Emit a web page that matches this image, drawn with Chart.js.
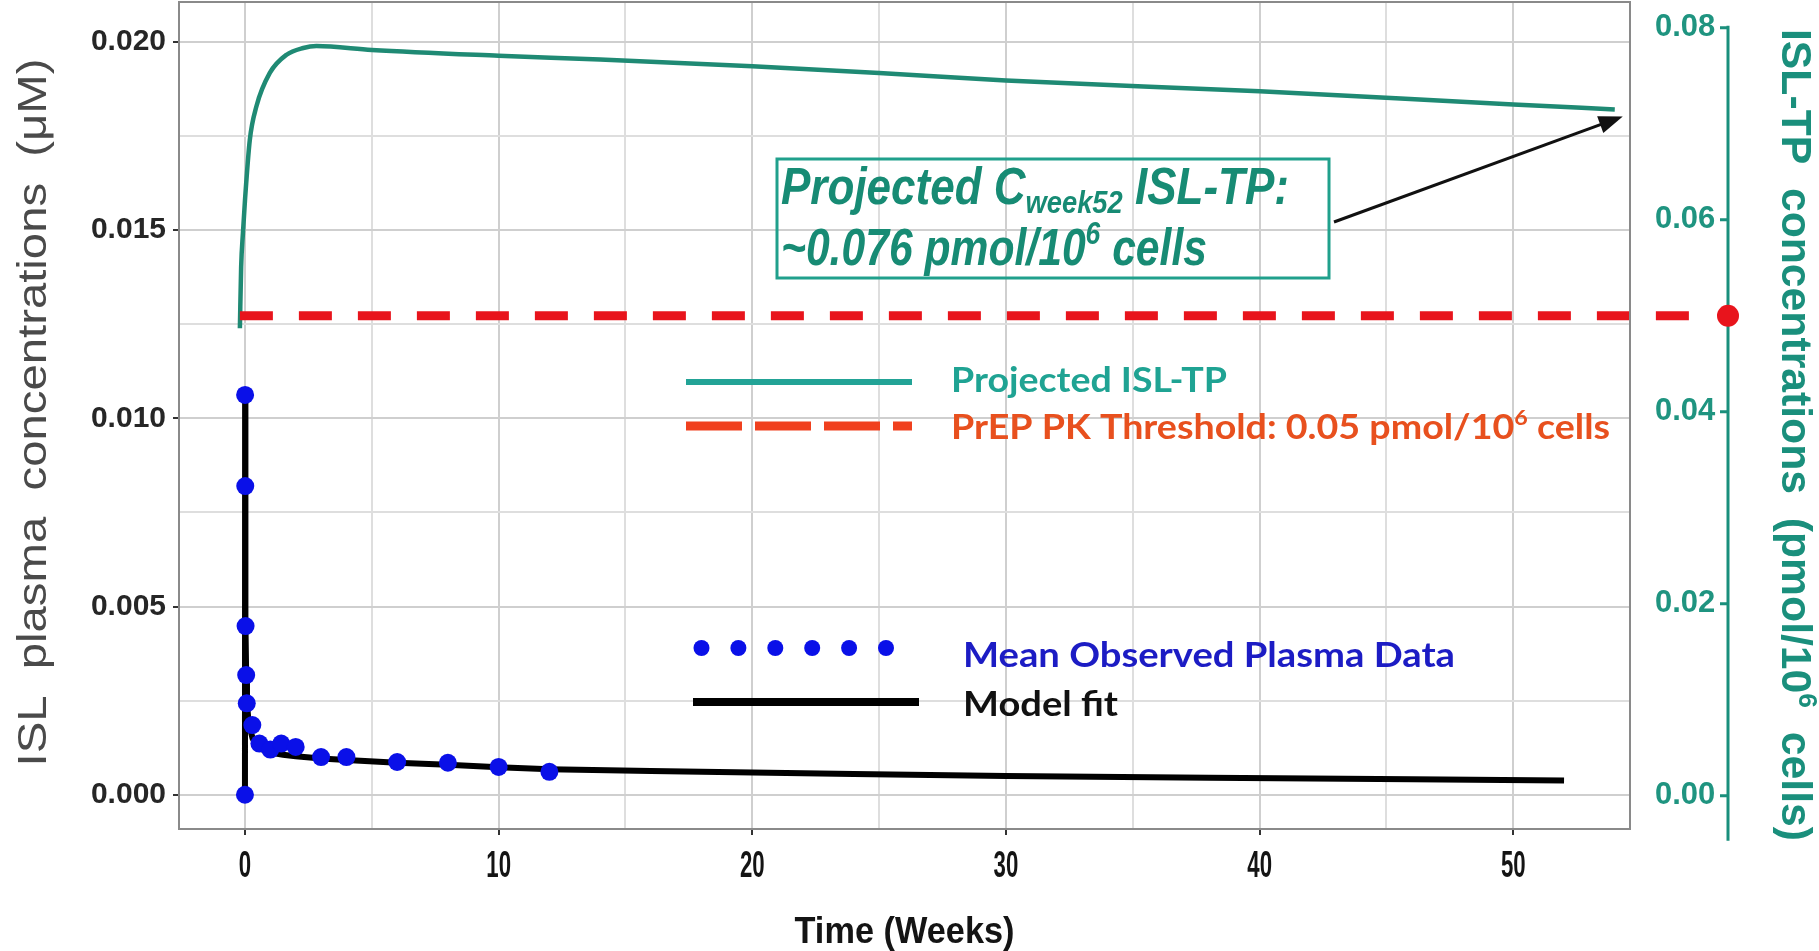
<!DOCTYPE html>
<html>
<head>
<meta charset="utf-8">
<script src="https://cdn.jsdelivr.net/npm/chart.js@4.4.1/dist/chart.umd.min.js"></script>
<style>
html,body{margin:0;padding:0;background:#fff;}
#wrap{width:1819px;height:951px;position:relative;}
</style>
</head>
<body>
<div id="wrap"><canvas id="c"></canvas></div>
<script>
// mean observed ISL plasma data (weeks, uM)
const obsWeeks = [0, 0.006, 0.012, 0.024, 0.048, 0.071, 0.29, 0.57, 1, 1.43, 2, 3, 4, 6, 8, 10, 12];
const obsConc  = [0, 0.01062, 0.0082, 0.00448, 0.00318, 0.00243, 0.00185, 0.00136, 0.0012, 0.00136, 0.00127, 0.001, 0.001, 0.00087, 0.00085, 0.00074, 0.00061];

// model fit (weeks, uM)
const fitWeeks = [0, 0.006, 0.012, 0.024, 0.048, 0.08, 0.15, 0.3, 0.5, 1, 1.5, 2, 3, 4, 6, 8, 10, 12, 16, 20, 24, 30, 38, 46, 52];
const fitConc  = [0, 0.0106, 0.0082, 0.0046, 0.0032, 0.0024, 0.0019, 0.0015, 0.00125, 0.00112, 0.00106, 0.00102, 0.00096, 0.00092, 0.00085, 0.0008, 0.00073, 0.00068, 0.00063, 0.00059, 0.00055, 0.0005, 0.00045, 0.00041, 0.00038];

// projected ISL-TP (weeks, pmol/10^6 cells)
const tpWeeks = [-0.2, -0.15, -0.08, 0, 0.19, 0.45, 0.98, 1.64, 2.3, 2.82, 5, 10, 14, 20, 25, 30, 40, 50, 54];
const tpConc  = [0.0487, 0.0551, 0.0586, 0.062, 0.0683, 0.0718, 0.0753, 0.0772, 0.0779, 0.0781, 0.0777, 0.0771, 0.0767, 0.076, 0.0753, 0.0745, 0.0734, 0.072, 0.0715];

// PrEP PK threshold (pmol/10^6 cells)
const thresholdValue = 0.05;
const thresholdWeeks = [-0.2, 57.3];

const xTickLabels  = [0, 10, 20, 30, 40, 50];
const yTickLabels  = [0, 0.005, 0.01, 0.015, 0.02];
const y2TickLabels = [0, 0.02, 0.04, 0.06, 0.08];

const TEAL = '#1f8a74';
const isIn = (arr, v) => arr.some(t => Math.abs(t - v) < 1e-9);
const pts = (xs, ys) => xs.map((x, i) => ({x: x, y: ys[i]}));

// draw text made of runs (normal / sup / sub), optionally squeezed to a width
function drawRuns(ctx, runs, o) {
  const font = s => `${o.style || 'normal'} ${o.weight || 'normal'} ${s}px ${o.family || "'Liberation Sans'"}`;
  ctx.save();
  let total = 0;
  const ws = runs.map(r => {
    ctx.font = font(o.size * (r.sup || r.sub ? 0.62 : 1));
    const w = ctx.measureText(r.t).width;
    total += w;
    return w;
  });
  const sx = o.width ? o.width / total : (o.sx || 1);
  ctx.translate(o.x, o.y);
  if (o.rotate) ctx.rotate(o.rotate);
  ctx.scale(sx, 1);
  ctx.fillStyle = o.color;
  ctx.textAlign = 'left';
  ctx.textBaseline = 'alphabetic';
  let cx = o.align === 'center' ? -total / 2 : 0;
  runs.forEach((r, i) => {
    ctx.font = font(o.size * (r.sup || r.sub ? 0.62 : 1));
    const dy = r.sup ? -o.size * 0.4 : (r.sub ? o.size * 0.18 : 0);
    ctx.fillText(r.t, cx, dy);
    cx += ws[i];
  });
  ctx.restore();
}

const decor = {
  id: 'decor',
  afterDatasetsDraw(chart) {
    const {ctx, chartArea: a, scales} = chart;
    const x = scales.x, y2 = scales.y2;

    // panel border
    ctx.save();
    ctx.strokeStyle = '#8a8a8a';
    ctx.lineWidth = 2;
    ctx.strokeRect(a.left, a.top, a.right - a.left, a.bottom - a.top);
    ctx.restore();

    // x tick labels and title
    xTickLabels.forEach(v => {
      drawRuns(ctx, [{t: String(v)}], {x: x.getPixelForValue(v), y: 877, size: 37, weight: 'bold', sx: 0.6, align: 'center', color: '#141414'});
    });
    drawRuns(ctx, [{t: 'Time (Weeks)'}], {x: (a.left + a.right) / 2, y: 943, size: 36, weight: 'bold', width: 220, align: 'center', color: '#141414'});

    // left title
    drawRuns(ctx, [{t: 'ISL  plasma  concentrations  (\u03bcM)'}], {x: 46, y: (a.top + a.bottom) / 2 - 3, size: 40, width: 708, align: 'center', rotate: -Math.PI / 2, color: '#4a4a4a'});

    // right axis line, ticks, dot, title
    const ax = a.right + 98;
    ctx.save();
    ctx.strokeStyle = '#1a8f7c';
    ctx.lineWidth = 3;
    ctx.beginPath();
    ctx.moveTo(ax, y2.getPixelForValue(0.08) - 2);
    ctx.lineTo(ax, y2.getPixelForValue(0) + 45);
    y2TickLabels.forEach(v => {
      const py = y2.getPixelForValue(v);
      ctx.moveTo(ax - 8, py);
      ctx.lineTo(ax, py);
    });
    ctx.stroke();
    ctx.fillStyle = '#e8141c';
    ctx.beginPath();
    ctx.arc(ax, y2.getPixelForValue(thresholdValue), 11, 0, Math.PI * 2);
    ctx.fill();
    ctx.restore();
    drawRuns(ctx, [{t: 'ISL-TP  concentrations  (pmol/10'}, {t: '6', sup: true}, {t: '  cells)'}],
      {x: 1782, y: 435, size: 42, weight: 'bold', width: 812, align: 'center', rotate: Math.PI / 2, color: '#1a8f7c'});

    // annotation box with arrow
    ctx.save();
    ctx.strokeStyle = '#20a08c';
    ctx.lineWidth = 3;
    ctx.strokeRect(777, 159, 552, 119);
    const tx = x.getPixelForValue(tpWeeks[tpWeeks.length - 1]) + 8;
    const ty = y2.getPixelForValue(tpConc[tpConc.length - 1]) + 7;
    const sx0 = 1334, sy0 = 222;
    const ang = Math.atan2(ty - sy0, tx - sx0);
    ctx.strokeStyle = '#111';
    ctx.lineWidth = 3;
    ctx.beginPath();
    ctx.moveTo(sx0, sy0);
    ctx.lineTo(tx - 18 * Math.cos(ang), ty - 18 * Math.sin(ang));
    ctx.stroke();
    ctx.fillStyle = '#111';
    ctx.beginPath();
    ctx.moveTo(tx, ty);
    ctx.lineTo(tx - 24 * Math.cos(ang) + 9 * Math.sin(ang), ty - 24 * Math.sin(ang) - 9 * Math.cos(ang));
    ctx.lineTo(tx - 24 * Math.cos(ang) - 9 * Math.sin(ang), ty - 24 * Math.sin(ang) + 9 * Math.cos(ang));
    ctx.closePath();
    ctx.fill();
    ctx.restore();
    drawRuns(ctx, [{t: 'Projected C'}, {t: 'week52', sub: true}, {t: ' ISL-TP:'}],
      {x: 781, y: 204, size: 52, weight: 'bold', style: 'italic', width: 508, color: '#178b74'});
    drawRuns(ctx, [{t: '~0.076 pmol/10'}, {t: '6', sup: true}, {t: ' cells'}],
      {x: 781, y: 265, size: 52, weight: 'bold', style: 'italic', width: 426, color: '#178b74'});

    // legends
    ctx.save();
    ctx.lineCap = 'butt';
    ctx.strokeStyle = '#22a396';
    ctx.lineWidth = 6;
    ctx.beginPath(); ctx.moveTo(686, 382); ctx.lineTo(912, 382); ctx.stroke();
    ctx.strokeStyle = '#f0401e';
    ctx.lineWidth = 9;
    ctx.setLineDash([56, 13]);
    ctx.beginPath(); ctx.moveTo(686, 426); ctx.lineTo(912, 426); ctx.stroke();
    ctx.setLineDash([]);
    ctx.fillStyle = '#0a10e8';
    for (let i = 0; i < 6; i++) {
      ctx.beginPath(); ctx.arc(701.5 + 36.9 * i, 648, 8, 0, Math.PI * 2); ctx.fill();
    }
    ctx.strokeStyle = '#000';
    ctx.lineWidth = 8;
    ctx.beginPath(); ctx.moveTo(693, 702); ctx.lineTo(919, 702); ctx.stroke();
    ctx.restore();
    const lf = {family: 'Lato', weight: 'bold', size: 35};
    drawRuns(ctx, [{t: 'Projected ISL-TP'}], Object.assign({x: 951, y: 392, width: 276, color: '#1fa393'}, lf));
    drawRuns(ctx, [{t: 'PrEP PK Threshold: 0.05 pmol/10'}, {t: '6', sup: true}, {t: ' cells'}], Object.assign({x: 951, y: 439, width: 659, color: '#e8501e'}, lf));
    drawRuns(ctx, [{t: 'Mean Observed Plasma Data'}], Object.assign({x: 963, y: 667, width: 492, color: '#1c1cc4'}, lf));
    drawRuns(ctx, [{t: 'Model fit'}], Object.assign({x: 963, y: 716, width: 155, color: '#111'}, lf));
  }
};

Chart.defaults.font.family = "'Liberation Sans'";

const noPad = s => { s.paddingTop = 0; s.paddingBottom = 0; s.paddingLeft = 0; s.paddingRight = 0; };

new Chart(document.getElementById('c'), {
  type: 'scatter',
  data: {
    datasets: [
      {label: 'Mean Observed Plasma Data', data: pts(obsWeeks, obsConc), yAxisID: 'y', order: 0,
       pointRadius: 9, pointBackgroundColor: '#0a10e8', pointBorderWidth: 0, showLine: false},
      {label: 'Model fit', data: pts(fitWeeks, fitConc), yAxisID: 'y', order: 1,
       showLine: true, borderColor: '#000', borderWidth: 6, pointRadius: 0},
      {label: 'PrEP PK Threshold', data: pts(thresholdWeeks, thresholdWeeks.map(() => thresholdValue)), yAxisID: 'y2', order: 2,
       showLine: true, borderColor: '#e8141c', borderWidth: 9, borderDash: [33, 26], borderCapStyle: 'butt', pointRadius: 0, clip: false},
      {label: 'Projected ISL-TP', data: pts(tpWeeks, tpConc), yAxisID: 'y2', order: 3,
       showLine: true, borderColor: TEAL, borderWidth: 4.5, pointRadius: 0, cubicInterpolationMode: 'monotone'}
    ]
  },
  options: {
    responsive: true,
    maintainAspectRatio: false,
    animation: false,
    events: [],
    layout: {autoPadding: false, padding: {top: 2, left: 0, right: 0, bottom: 0}},
    plugins: {legend: {display: false}, tooltip: {enabled: false}},
    scales: {
      x: {
        type: 'linear', min: -2.6, max: 54.6,
        afterFit: s => { s.height = 122; noPad(s); },
        border: {display: false},
        grid: {
          color: c => isIn(xTickLabels, c.tick.value) ? '#cfcfcf' : '#dedede',
          lineWidth: 2, drawTicks: true, tickLength: 6, tickWidth: 2,
          tickColor: c => isIn(xTickLabels, c.tick.value) ? '#333' : 'rgba(0,0,0,0)'
        },
        ticks: {stepSize: 5, includeBounds: false, autoSkip: false, display: false}
      },
      y: {
        type: 'linear', position: 'left', min: -0.00091, max: 0.02106,
        afterFit: s => { s.width = 179; noPad(s); },
        border: {display: false},
        grid: {
          color: c => isIn(yTickLabels, c.tick.value) ? '#cfcfcf' : '#dedede',
          lineWidth: 2, drawTicks: true, tickLength: 6, tickWidth: 2,
          tickColor: c => isIn(yTickLabels, c.tick.value) ? '#333' : 'rgba(0,0,0,0)'
        },
        ticks: {
          stepSize: 0.0025, includeBounds: false, autoSkip: false, padding: 7,
          color: '#262626', font: {size: 30, weight: 'bold'},
          callback: v => isIn(yTickLabels, v) ? v.toFixed(3) : ''
        }
      },
      y2: {
        type: 'linear', position: 'right', min: -0.00346, max: 0.08269,
        afterFit: s => { s.width = 189; noPad(s); },
        border: {display: false},
        grid: {display: false, drawOnChartArea: false},
        ticks: {
          stepSize: 0.02, includeBounds: false, autoSkip: false, padding: 17,
          color: '#1f9480', font: {size: 31, weight: 'bold'},
          callback: v => v.toFixed(2)
        }
      }
    }
  },
  plugins: [decor]
});
</script>
</body>
</html>
